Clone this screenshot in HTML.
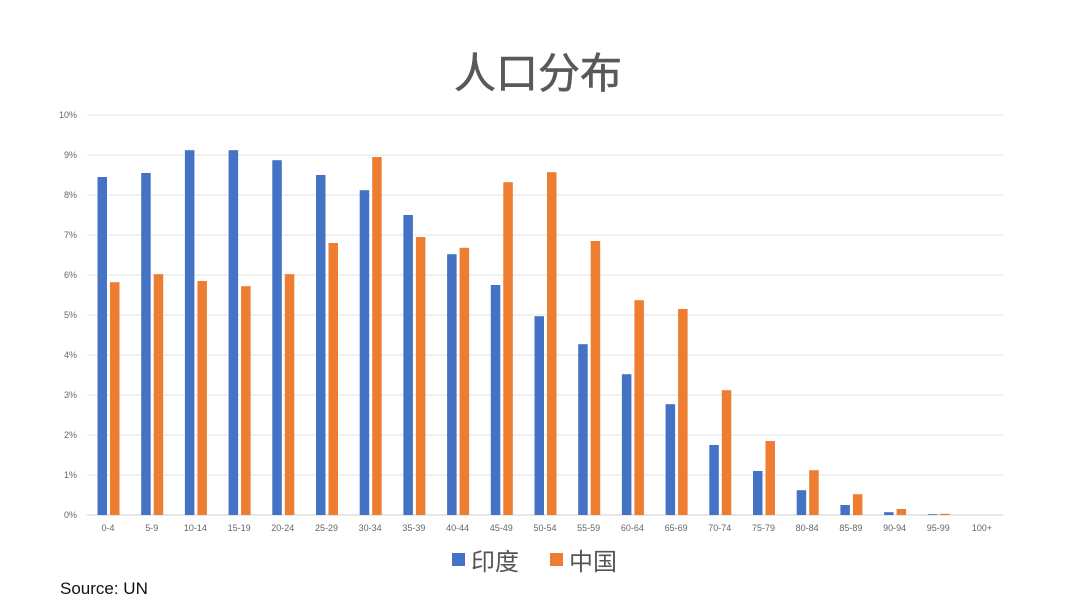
<!DOCTYPE html>
<html><head><meta charset="utf-8"><style>
body{margin:0;background:#fff;width:1080px;height:608px;overflow:hidden;font-family:"Liberation Sans","Noto Sans CJK SC",sans-serif}
</style></head><body>
<svg id="c" width="1080" height="608" xmlns="http://www.w3.org/2000/svg">
<text x="538" y="88" text-anchor="middle" font-size="42" fill="#595959" stroke="#595959" stroke-width="0.6" font-family="Liberation Sans, Noto Sans CJK SC, sans-serif">人口分布</text>
<g id="g"></g>
<rect x="452" y="553" width="13" height="13" fill="#4472C4"/>
<text x="471" y="570" font-size="24" fill="#555" font-family="Liberation Sans, Noto Sans CJK SC, sans-serif">印度</text>
<rect x="550" y="553" width="13" height="13" fill="#ED7D31"/>
<text x="569" y="570" font-size="24" fill="#555" font-family="Liberation Sans, Noto Sans CJK SC, sans-serif">中国</text>
<text x="60" y="594" font-size="17" fill="#111" font-family="Liberation Sans, sans-serif">Source: UN</text>
</svg>
<script>
var g=document.getElementById('g'),s='';
for(var i=0;i<=10;i++){var y=515-40*i;
s+='<line x1="87" x2="1003" y1="'+y+'" y2="'+y+'" stroke="'+(i?'#e3e3e3':'#cfcfcf')+'" stroke-width="1"/>';
s+='<text x="77" y="'+(y+3)+'" text-anchor="end" font-size="9" fill="#666">'+i+'%</text>';}
var L=['0-4','5-9','10-14','15-19','20-24','25-29','30-34','35-39','40-44','45-49','50-54','55-59','60-64','65-69','70-74','75-79','80-84','85-89','90-94','95-99','100+'];
var A=[8.45,8.55,9.12,9.12,8.87,8.5,8.12,7.5,6.52,5.75,4.97,4.27,3.52,2.77,1.75,1.1,0.62,0.25,0.07,0.02,0];
var B=[5.82,6.02,5.85,5.72,6.02,6.8,8.95,6.95,6.68,8.32,8.57,6.85,5.37,5.15,3.12,1.85,1.12,0.52,0.15,0.03,0];
for(var i=0;i<21;i++){var c=108+43.7*i;
var h=A[i]*40;s+='<rect x="'+(c-10.5)+'" y="'+(515-h)+'" width="9.5" height="'+h+'" fill="#4472C4"/>';
h=B[i]*40;s+='<rect x="'+(c+2)+'" y="'+(515-h)+'" width="9.5" height="'+h+'" fill="#ED7D31"/>';
s+='<text x="'+c+'" y="531" text-anchor="middle" font-size="9" fill="#666">'+L[i]+'</text>';}
g.innerHTML=s;
</script>
</body></html>
